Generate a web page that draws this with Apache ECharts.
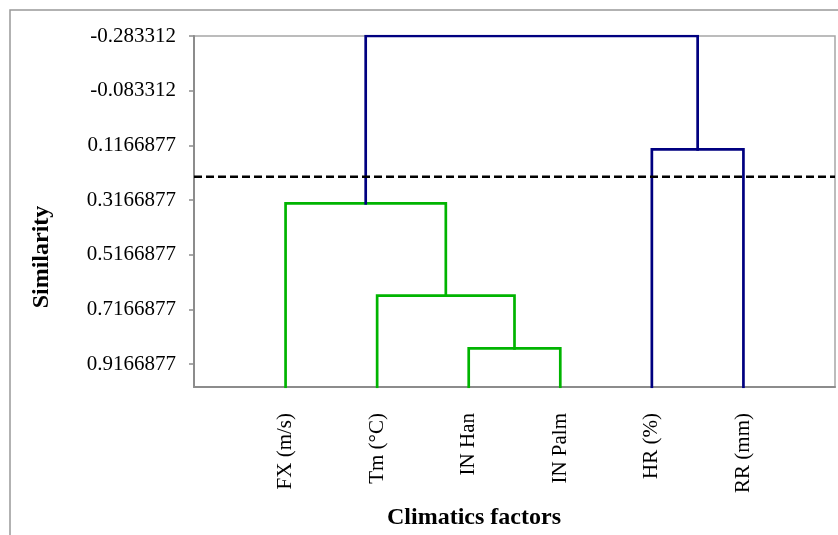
<!DOCTYPE html>
<html>
<head>
<meta charset="utf-8">
<script src="https://cdn.jsdelivr.net/npm/echarts@6/dist/echarts.min.js"></script>
<style>html,body{margin:0;padding:0;background:#fff}#c{width:838px;height:535px}</style>
</head>
<body>
<div id="c"></div>
<script>
// ---- data ----
const leaves = ['FX (m/s)', 'Tm (°C)', 'IN Han', 'IN Palm', 'HR (%)', 'RR (mm)'];
const yTickLabels = ['-0.283312', '-0.083312', '0.1166877', '0.3166877', '0.5166877', '0.7166877', '0.9166877'];
// merges: child A index, child B index (leaves 0..5, merged nodes 6..), merge height
const mergeLeft   = [2, 1, 0, 4, 8];
const mergeRight  = [3, 6, 7, 5, 9];
const mergeHeight = [0.8586, 0.6662, 0.3285, 0.1311, -0.283312];
const leafLevel = 1.0;
const cutLevel = 0.2310;
const yMin = -0.283312, yMax = 1.0;
const xMin = 0, xMax = 7;
// cluster group of each merge (0 = green, 1 = navy)
const mergeGroup = [0, 0, 0, 1, 1];

// ---- styles ----
const groupColors = ['#00b400', '#000080'];
const FONT = 'Liberation Serif, Times New Roman, serif';

const nodeX = leaves.map((_, i) => i + 1);
const nodeY = leaves.map(() => leafLevel);
const series = [];
mergeHeight.forEach((h, k) => {
  const a = mergeLeft[k], b = mergeRight[k];
  const x1 = nodeX[a], x2 = nodeX[b];
  series.push({
    type: 'line', symbol: 'none', animation: false, silent: true,
    lineStyle: { color: groupColors[mergeGroup[k]], width: 2.7, cap: 'square', join: 'miter' },
    data: [[x1, nodeY[a]], [x1, h], [x2, h], [x2, nodeY[b]]],
    z: 3
  });
  nodeX.push((x1 + x2) / 2);
  nodeY.push(h);
});
series.push({
  type: 'line', symbol: 'none', animation: false, silent: true,
  lineStyle: { color: '#000', width: 2.5, type: [8, 4] },
  data: [[xMin, cutLevel], [xMax, cutLevel]],
  z: 4
});

const yTickValues = yTickLabels.map(Number);

const chart = echarts.init(document.getElementById('c'), null, { renderer: 'canvas' });
chart.setOption({
  backgroundColor: '#fff',
  animation: false,
  grid: { left: 194, top: 36, right: 3, bottom: 148, show: true, borderColor: '#a6a6a6', borderWidth: 1.5, backgroundColor: 'transparent' },
  xAxis: {
    type: 'value', min: xMin, max: xMax,
    axisLine: { show: true, onZero: false, lineStyle: { color: '#8c8c8c', width: 2 } },
    axisTick: { show: false },
    splitLine: { show: false },
    axisLabel: {
      customValues: nodeX.slice(0, leaves.length),
      rotate: 90, margin: 26,
      color: '#000', fontFamily: FONT, fontSize: 21,
      formatter: v => leaves[Math.round(v) - 1] || ''
    }
  },
  yAxis: {
    type: 'value', inverse: true, min: yMin, max: yMax,
    axisLine: { show: true, onZero: false, lineStyle: { color: '#8c8c8c', width: 2 } },
    axisTick: { show: true, customValues: yTickValues, length: 5, lineStyle: { color: '#8c8c8c', width: 1.5 } },
    splitLine: { show: false },
    axisLabel: {
      customValues: yTickValues, margin: 18,
      color: '#000', fontFamily: FONT, fontSize: 21,
      formatter: v => {
        const i = yTickValues.findIndex(t => Math.abs(t - v) < 1e-6);
        return i >= 0 ? yTickLabels[i] : '';
      }
    }
  },
  graphic: [
    { type: 'rect', shape: { x: 10, y: 10, width: 900, height: 600 }, style: { fill: 'none', stroke: '#999', lineWidth: 1.5 }, z: -10, silent: true },
    { type: 'text', x: 42, y: 257, rotation: Math.PI / 2,
      style: { text: 'Similarity', font: 'bold 24px ' + FONT, fill: '#000', textAlign: 'center', textVerticalAlign: 'middle' } },
    { type: 'text', x: 474, y: 518,
      style: { text: 'Climatics factors', font: 'bold 24px ' + FONT, fill: '#000', textAlign: 'center', textVerticalAlign: 'middle' } }
  ],
  series: series
});
</script>
</body>
</html>
